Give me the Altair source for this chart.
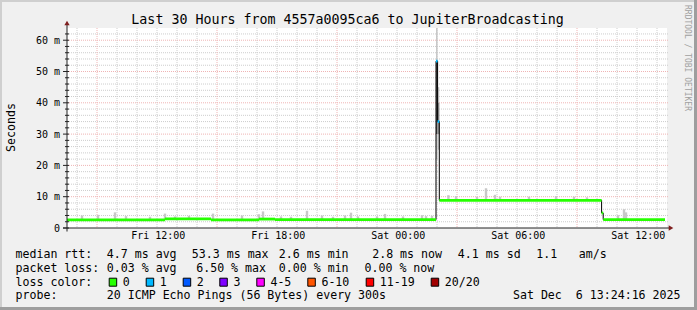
import altair as alt
import pandas as pd

FONT = "DejaVu Sans Mono"

# ---------------- data (x = hours after Fri 07:30, y = milliseconds) ----------------
run_start = [0.0, 4.9, 7.2, 9.6, 10.4, 18.45, 18.53, 18.615, 26.73, 26.81]
run_end = [4.9, 7.2, 9.6, 10.4, 18.45, 18.53, 18.615, 26.73, 26.81, 29.9]
run_median = [2.6, 2.9, 2.6, 2.85, 2.65, 53.3, 34.0, 8.85, 4.8, 2.7]
run_loss = ["0", "0", "0", "0", "0", "1", "1", "0", "0", "0"]

bump_hour = [0.75, 1.55, 2.4, 2.95, 4.15, 4.9, 5.4, 6.1, 7.3, 8.75, 9.6, 9.8, 10.7,
             11.2, 12.0, 12.75, 13.3, 13.9, 14.2, 14.55, 15.5, 15.9, 16.8, 17.75,
             17.95, 18.25, 19.07, 19.45, 20.5, 20.95, 21.4, 21.65, 23.1, 24.45,
             25.35, 26.0, 27.55, 27.85, 27.95]
bump_top = [4.0, 4.2, 5.0, 3.8, 3.6, 4.6, 3.7, 3.9, 4.6, 4.0, 4.4, 5.3, 3.7,
            3.6, 5.5, 4.0, 3.6, 4.0, 4.9, 3.7, 3.7, 4.5, 3.7, 4.1,
            3.8, 3.9, 10.5, 10.2, 9.9, 12.7, 10.6, 10.0, 10.0, 10.2,
            10.0, 9.8, 4.1, 6.0, 5.0]

spike_start = [18.45, 18.45, 18.53, 18.53]
spike_end = [18.53, 18.53, 18.615, 18.615]
spike_low = [22.0, 30.0, 25.0, 30.0]
spike_high = [63.9, 53.3, 45.0, 40.0]
spike_shade = ["#c8c8c8", "#555555", "#c8c8c8", "#8a8a8a"]

loss_labels = ["0", "1", "2", "3", "4-5", "6-10", "11-19", "20/20"]
loss_colors = ["#26ff00", "#00b8ff", "#0059ff", "#7e00ff", "#ff00ff", "#ff5500", "#ff0000", "#a10000"]

xtick_hours = [4.5, 10.5, 16.5, 22.5, 28.5]
xtick_labels = ["Fri 12:00", "Fri 18:00", "Sat 00:00", "Sat 06:00", "Sat 12:00"]
ytick_values = [0, 10, 20, 30, 40, 50, 60]
ytick_labels = ["0", "10 m", "20 m", "30 m", "40 m", "50 m", "60 m"]

title_text = "Last 30 Hours from 4557a0095ca6 to JupiterBroadcasting"
ylabel_text = "Seconds"
watermark_text = "RRDTOOL / TOBI OETIKER"
rtt_texts = ["median rtt:", "4.7 ms avg", "53.3 ms max", "2.6 ms min", "2.8 ms now",
             "4.1 ms sd", "1.1", "am/s"]
loss_texts = ["packet loss:", "0.03 % avg", "6.50 % max", "0.00 % min", "0.00 % now"]
color_head = "loss color:"
probe_texts = ["probe:", "20 ICMP Echo Pings (56 Bytes) every 300s"]
date_text = "Sat Dec  6 13:24:16 2025"

# ---------------- layout (page pixels) ----------------
W, H = 600, 200
OX, OY = 67, 28
XMAX, YMAX = 30.0, 63.9
rtt_x = [16, 107.3, 192.3, 279.3, 372.7, 458.3, 536.7, 579.3]
loss_x = [16, 107.3, 196.7, 279.3, 365]
probe_x = [16, 107.3]
box_x = [108.7, 145.7, 182.7, 219.3, 256.3, 307.3, 365.7, 430.7]
line_y = [258.3, 271.7, 285.6, 299.3]

xs = alt.Scale(domain=[0, XMAX], nice=False, zero=False)
ys = alt.Scale(domain=[0, YMAX], nice=False, zero=False)
one = alt.Data(values=[{"a": 1}])
nb = lambda s: s.replace(" ", "\u00a0")

# grids
major_v = [1.5, 7.5, 13.5, 19.5, 25.5]
minor_v = [h + 0.5 for h in range(30) if (h + 0.5) not in major_v]
major_h = [10, 20, 30, 40, 50, 60]
minor_h = [v for v in range(2, 64, 2) if v % 10]

def vgrid(vals, color):
    return alt.Chart(pd.DataFrame({"h": vals})).mark_rule(
        color=color, strokeWidth=1, strokeDash=[1, 1]).encode(
        x=alt.X("h:Q", scale=xs, axis=None), y=alt.value(0), y2=alt.value(H))

def hgrid(vals, color):
    return alt.Chart(pd.DataFrame({"v": vals})).mark_rule(
        color=color, strokeWidth=1, strokeDash=[1, 1]).encode(
        y=alt.Y("v:Q", scale=ys, axis=None), x=alt.value(0), x2=alt.value(W + 1))

MINOR = "#cdcdcd"
MAJOR = "#efb4b4"
layers = [vgrid(minor_v, MINOR), hgrid(minor_h, MINOR), vgrid(major_v, MAJOR), hgrid(major_h, MAJOR)]

# smoke bumps
def median_at(h):
    for s, e, m in zip(run_start, run_end, run_median):
        if s <= h < e:
            return m
    return run_median[-1]

bumps = pd.DataFrame({
    "t0": [h - 0.06 for h in bump_hour],
    "t1": [h + 0.06 for h in bump_hour],
    "lo": [median_at(h) for h in bump_hour],
    "hi": bump_top,
})
layers.append(alt.Chart(bumps).mark_rect(color="#c8c8c8").encode(
    x=alt.X("t0:Q", scale=xs, axis=None), x2="t1",
    y=alt.Y("lo:Q", scale=ys, axis=None), y2="hi"))

spike = pd.DataFrame({"t0": spike_start, "t1": spike_end, "lo": spike_low,
                      "hi": spike_high, "c": spike_shade})
layers.append(alt.Chart(spike).mark_rect().encode(
    x=alt.X("t0:Q", scale=xs, axis=None), x2="t1",
    y=alt.Y("lo:Q", scale=ys, axis=None), y2="hi",
    color=alt.Color("c:N", scale=None)))

# median black step line
line_df = pd.DataFrame({"t": run_start + [run_end[-1]], "m": run_median + [run_median[-1]]})
layers.append(alt.Chart(line_df).mark_line(interpolate="step-after", color="#000000", strokeWidth=1).encode(
    x=alt.X("t:Q", scale=xs, axis=None), y=alt.Y("m:Q", scale=ys, axis=None)))

# coloured median band
cmap = dict(zip(loss_labels, loss_colors))
band = pd.DataFrame({"t0": run_start, "t1": run_end,
                     "lo": [m - 0.45 for m in run_median], "hi": [m + 0.45 for m in run_median],
                     "c": [cmap[l] for l in run_loss]})
layers.append(alt.Chart(band).mark_rect().encode(
    x=alt.X("t0:Q", scale=xs, axis=None), x2="t1",
    y=alt.Y("lo:Q", scale=ys, axis=None), y2="hi",
    color=alt.Color("c:N", scale=None)))

# axes
AX = "#222222"
layers.append(alt.Chart(one).mark_rule(color=AX, strokeWidth=1).encode(
    x=alt.value(0), y=alt.value(-3), y2=alt.value(H + 3.5)))
layers.append(alt.Chart(one).mark_rule(color=AX, strokeWidth=1).encode(
    y=alt.value(H), x=alt.value(-4), x2=alt.value(W + 3)))
layers.append(alt.Chart(one).mark_point(shape="triangle-up", filled=True, size=28, color="#7f1f1f", opacity=1).encode(
    x=alt.value(0), y=alt.value(-5)))
layers.append(alt.Chart(one).mark_point(shape="triangle-right", filled=True, size=28, color="#7f1f1f", opacity=1).encode(
    x=alt.value(W + 4), y=alt.value(H)))
layers.append(alt.Chart(pd.DataFrame({"v": ytick_values})).mark_rule(color=AX, strokeWidth=1).encode(
    y=alt.Y("v:Q", scale=ys, axis=None), x=alt.value(-4), x2=alt.value(2)))
layers.append(alt.Chart(pd.DataFrame({"v": minor_h})).mark_rule(color=AX, strokeWidth=1).encode(
    y=alt.Y("v:Q", scale=ys, axis=None), x=alt.value(-2), x2=alt.value(2)))

# tick labels
layers.append(alt.Chart(pd.DataFrame({"v": ytick_values, "t": ytick_labels})).mark_text(
    font=FONT, fontSize=10, align="right", baseline="alphabetic", dy=3.6, color="#000000").encode(
    y=alt.Y("v:Q", scale=ys, axis=None), x=alt.value(60 - OX), text="t:N"))
layers.append(alt.Chart(pd.DataFrame({"h": xtick_hours, "t": xtick_labels})).mark_text(
    font=FONT, fontSize=10, align="center", baseline="alphabetic", dx=1.3, color="#000000").encode(
    x=alt.X("h:Q", scale=xs, axis=None), y=alt.value(239.3 - OY), text="t:N"))

# title, y label, watermark
layers.append(alt.Chart(one).mark_text(font=FONT, fontSize=13.3, align="center", baseline="alphabetic",
                                       color="#000000", text=title_text).encode(
    x=alt.value(347.5 - OX), y=alt.value(24 - OY)))
layers.append(alt.Chart(one).mark_text(font=FONT, fontSize=11.6, align="center", baseline="alphabetic",
                                       angle=270, color="#000000", text=ylabel_text).encode(
    x=alt.value(15 - OX), y=alt.value(127.5 - OY)))
layers.append(alt.Chart(one).mark_text(font=FONT, fontSize=8, align="left", baseline="alphabetic",
                                       angle=90, color="#a0a0a0", text=nb(watermark_text)).encode(
    x=alt.value(684.5 - OX), y=alt.value(5 - OY)))

# legend texts
rows = []
for t, x in zip(rtt_texts, rtt_x):
    rows.append({"px": x - 0.5 - OX, "py": line_y[0] - OY, "t": nb(t)})
for t, x in zip(loss_texts, loss_x):
    rows.append({"px": x - 0.5 - OX, "py": line_y[1] - OY, "t": nb(t)})
rows.append({"px": 16 - 0.5 - OX, "py": line_y[2] - OY, "t": nb(color_head)})
for t, x in zip(loss_labels, box_x):
    rows.append({"px": x + 14.6 - 0.5 - OX, "py": line_y[2] - OY, "t": nb(t)})
for t, x in zip(probe_texts, probe_x):
    rows.append({"px": x - 0.5 - OX, "py": line_y[3] - OY, "t": nb(t)})
layers.append(alt.Chart(pd.DataFrame(rows)).mark_text(
    font=FONT, fontSize=11.6, align="left", baseline="alphabetic", color="#000000").encode(
    x=alt.X("px:Q", scale=None, axis=None), y=alt.Y("py:Q", scale=None, axis=None), text="t:N"))
layers.append(alt.Chart(one).mark_text(font=FONT, fontSize=11.6, align="right", baseline="alphabetic",
                                       color="#000000", text=nb(date_text)).encode(
    x=alt.value(680.5 - OX), y=alt.value(line_y[3] - OY)))

boxes = pd.DataFrame({"x0": [x + 0.5 - OX for x in box_x], "x1": [x + 8.0 - OX for x in box_x],
                      "y0": [278.2 - OY] * 8, "y1": [286.2 - OY] * 8, "c": loss_colors})
layers.append(alt.Chart(boxes).mark_rect(stroke="#000000", strokeWidth=1).encode(
    x=alt.X("x0:Q", scale=None, axis=None), x2="x1",
    y=alt.Y("y0:Q", scale=None, axis=None), y2="y1",
    color=alt.Color("c:N", scale=None)))

# frame shading
def frame(x0, x1, y0, y1, c):
    return alt.Chart(one).mark_rect(color=c).encode(
        x=alt.value(x0 - OX), x2=alt.value(x1 - OX), y=alt.value(y0 - OY), y2=alt.value(y1 - OY))

layers += [frame(0, 697, 0, 2, "#cfcfcf"), frame(0, 2, 0, 310, "#cfcfcf"),
           frame(694, 697, 0, 310, "#9e9e9e"), frame(0, 697, 307, 310, "#9e9e9e")]

chart = alt.layer(*layers).properties(
    width=W, height=H,
    padding={"left": OX, "top": OY, "right": 697 - OX - W, "bottom": 310 - OY - H},
    autosize=alt.AutoSizeParams(type="none"),
    background="#f0f0f0",
).configure_view(fill="#ffffff", strokeWidth=0)

chart.save("out.html", embed_options={"renderer": "svg", "actions": False})
